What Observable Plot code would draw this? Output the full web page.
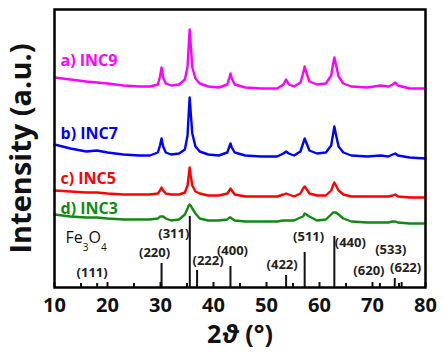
<!DOCTYPE html>
<html><head><meta charset="utf-8">
<script src="https://cdn.jsdelivr.net/npm/d3@7"></script>
<script src="https://cdn.jsdelivr.net/npm/@observablehq/plot@0.6"></script>
<style>body{margin:0;background:#fff}</style>
</head><body><div id="chart"></div>
<script>
const twoTheta = [10,13,16,18,20,23,26,28,29.5,29.9,30.2,30.5,31,32,33.5,34.6,35.1,35.35,35.5,35.7,36,36.6,37.4,39,41,42.6,43.0,43.2,43.45,44,46,49,52,53.2,53.7,54.2,55.2,56.4,56.9,57.2,57.5,58.1,59.5,61.2,62.2,62.55,62.8,63.1,63.6,64.5,66,69,71.5,73,73.8,74.3,74.8,77,80];
// stacked intensities (a.u.)
const inc9 = [210,208,206,205,204,202,201,201,203,211,220,210,204,202,203,208,221,245,258,243,220,209,204,201,200,203,210,214,209,203,200,199,199,203,208,203,201,205,214,221,215,206,203,204,212,223,230,223,211,204,201,200,202,201,203,205,202,199,199];
const inc7 = [143,139,136,137,135,133,132,132,135,142,149,141,135,133,134,138,152,177,190,175,154,141,136,133,132,135,141,144,140,135,132,131,131,134,136,134,132,136,144,149,145,137,134,135,142,153,161,153,141,135,132,131,132,131,133,134,132,130,129];
const inc5 = [97,96,95,95,94,93,93,93,94,97,100,97,94,93,93,95,102,113,120,112,102,96,94,92,92,94,97,99,97,93,91,91,91,93,94,93,91,94,99,101,99,94,92,92,97,102,105,102,97,93,91,91,91,91,92,93,91,90,90];
const inc3 = [73,71,70,70,69,68,68,68,69,71,71,71,69,67,68,73,79,82,83,82,79,74,69,67,67,68,70,70,69,67,66,66,66,67,67,67,67,70,71,74,73,71,67,68,73,75,75,75,73,69,66,65,65,65,66,66,65,64,64];
const seriesNames = ["a) INC9","b) INC7","c) INC5","d) INC3"];
const seriesColors = ["#ff00ff","#0000ff","#ff0000","#108a10"];
// Fe3O4 reference pattern
const hkl = ["(111)","(220)","(311)","(222)","(400)","(422)","(511)","(440)","(620)","(533)","(622)"];
const hklPos = [18.05,30.2,35.53,36.9,43.2,53.7,57.2,62.8,71.4,74.2,75.5];
const hklInt = [4,24,71,17,21,12,35,51,4,9,5];
const xTicks = [10,20,30,40,50,60,70,80];
const xMinorTicks = [15,25,35,45,55,65,75];

// layout offsets (pixels) of the hkl labels relative to the stick tops
const hklLabelOffset = [[-5,-11],[-7,-11],[-16,17],[11,-10],[2,-16],[-4,-11],[4,-16],[16,6],[-11,-13],[-4,-29],[4,-15]];
const seriesLabelDy = [-17,-11,-12,-6];

const series = [inc9, inc7, inc5, inc3];
const rows = [];
series.forEach((arr, k) => arr.forEach((v, i) => rows.push({s: seriesNames[k], x: twoTheta[i], y: v})));
const sticks = hkl.map((h, i) => ({h, x: hklPos[i], y: hklInt[i]}));

const font = "'Open Sans', 'DejaVu Sans', sans-serif";

const plot = Plot.plot({
  width: 444, height: 359,
  marginTop: 9, marginRight: 19, marginBottom: 72, marginLeft: 54,
  style: {fontFamily: font, background: "#fff", color: "#111"},
  x: {domain: [10, 80], label: null},
  y: {domain: [0, 278], axis: null},
  color: {domain: seriesNames, range: seriesColors},
  marks: [
    Plot.ruleX(sticks, {x: "x", y1: 0, y2: "y", stroke: "#111", strokeWidth: 2}),
    Plot.line(rows, {x: "x", y: "y", z: "s", stroke: "s", strokeWidth: 2.4, curve: "linear"}),
    ...sticks.map((d, i) => Plot.text([d], {x: "x", y: "y", text: "h", dx: hklLabelOffset[i][0], dy: hklLabelOffset[i][1], fontSize: 13, fontWeight: "bold", fill: "#222"})),
    ...seriesNames.map((n, k) => Plot.text([{x: twoTheta[0], y: series[k][0], t: n}], {x: "x", y: "y", text: "t", dx: 6, dy: seriesLabelDy[k], textAnchor: "start", fontSize: 16, fontWeight: "bold", fill: seriesColors[k]})),
    Plot.text(["Fe3O4"], {frameAnchor: "bottom-left", dx: 11, dy: -45, textAnchor: "start", fontSize: 16, fill: "#111"}),
    Plot.axisX({ticks: xTicks, tickSize: -5, strokeWidth: 2, text: null, label: null}),
    Plot.axisX({ticks: xMinorTicks, tickSize: -4, strokeWidth: 2, text: null, label: null}),
    Plot.axisX({ticks: xTicks, tickSize: 0, tickPadding: 10, fontSize: 20, fontWeight: "bold", label: null, tickFormat: d => d, fill: "#111"}),
    Plot.text(["2ϑ (°)"], {frameAnchor: "bottom", dy: 47, lineAnchor: "middle", fontSize: 25, fontWeight: "bold", fill: "#111"}),
    Plot.text(["Intensity (a.u.)"], {frameAnchor: "left", dx: -33, rotate: -90, textAnchor: "middle", lineAnchor: "middle", fontSize: 29, fontWeight: "bold", fill: "#111"}),
    Plot.frame({stroke: "#000", strokeWidth: 2.5})
  ]
});
document.getElementById("chart").appendChild(plot);

// subscripts and italic theta
d3.select(plot).selectAll("text").each(function() {
  const t = d3.select(this);
  if (this.textContent === "Fe3O4") {
    t.text(null);
    t.append("tspan").text("Fe");
    t.append("tspan").attr("font-size", 10).attr("dy", 8).text("3");
    t.append("tspan").attr("dy", -8).text("O");
    t.append("tspan").attr("font-size", 10).attr("dy", 8).text("4");
  } else if (this.textContent === "2ϑ (°)") {
    t.text(null);
    t.append("tspan").text("2");
    t.append("tspan").attr("font-style", "italic").text("ϑ");
    t.append("tspan").text(" (°)");
  }
});
</script>
</body></html>
